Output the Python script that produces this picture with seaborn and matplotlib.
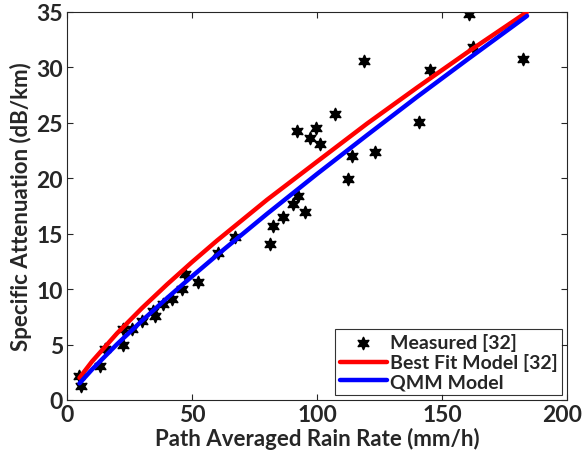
import matplotlib
matplotlib.use("Agg")
import matplotlib.pyplot as plt
import matplotlib.transforms as mtransforms
import seaborn as sns
import pandas as pd

# measured points (rain rate mm/h, attenuation dB/km)
rain_meas = [4.8, 5.6, 13.2, 15.2, 22.4, 22.4, 26.0, 30.0, 34.4, 35.2, 38.4, 42.0,
             46.0, 47.2, 52.4, 60.4, 67.2, 81.2, 82.4, 86.4, 90.4, 92.4, 95.2,
             92.0, 97.2, 99.6, 101.2, 107.2, 114.0, 112.4, 123.2, 118.8, 140.8,
             145.2, 160.8, 162.4, 182.4]
att_meas = [2.2, 1.3, 3.1, 4.6, 6.4, 5.0, 6.4, 7.1, 8.0, 7.6, 8.7, 9.1,
            10.0, 11.4, 10.6, 13.3, 14.7, 14.1, 15.7, 16.5, 17.7, 18.4, 17.0,
            24.3, 23.6, 24.5, 23.1, 25.8, 22.0, 19.9, 22.4, 30.6, 25.1,
            29.8, 34.8, 31.8, 30.8]

# model curves
rain_model = [5, 10, 20, 30, 40, 50, 60, 80, 100, 120, 140, 160, 184]
att_bestfit = [2.00, 3.47, 6.01, 8.29, 10.42, 12.44, 14.38, 18.06, 21.50,
               24.93, 28.18, 31.34, 35.0]
att_qmm = [1.50, 2.75, 5.03, 7.15, 9.19, 11.15, 13.07, 16.79, 20.39,
           23.89, 27.34, 30.69, 34.65]

sns.set_style("ticks")
plt.rcParams["font.family"] = ["Lato", "DejaVu Sans"]
plt.rcParams["font.weight"] = "bold"

fig = plt.figure(figsize=(5.84, 4.64), dpi=100)
ax = fig.add_axes([0.1147, 0.1358, 0.8563, 0.8362])

meas = pd.DataFrame({"rain": rain_meas, "att": att_meas})
sns.scatterplot(data=meas, x="rain", y="att", ax=ax, marker=(6, 1, 0), s=75,
                color="black", edgecolor="black", linewidth=1.2,
                label="Measured [32]", zorder=2)
sns.lineplot(x=rain_model, y=att_bestfit, ax=ax, color="#ff0000", lw=3.2,
             label="Best Fit Model [32]", sort=False, zorder=3)
sns.lineplot(x=rain_model, y=att_qmm, ax=ax, color="#0000ff", lw=3.2,
             label="QMM Model", sort=False, zorder=3)

ax.set_xlim(0, 200)
ax.set_ylim(0, 35)
ax.set_xticks([0, 50, 100, 150, 200])
ax.set_yticks([0, 5, 10, 15, 20, 25, 30, 35])
ax.tick_params(direction="in", top=True, right=True, length=4, width=0.8,
               labelsize=16.5, colors="#262626", pad=3)
for lab in ax.get_xticklabels() + ax.get_yticklabels():
    lab.set_fontweight("bold")
# keep the last x label inside the canvas
last = ax.get_xticklabels()[-1]
last.set_transform(last.get_transform() +
                   mtransforms.ScaledTranslation(-5 / 100, 0, fig.dpi_scale_trans))
for sp in ax.spines.values():
    sp.set_visible(True)
    sp.set_linewidth(0.8)
    sp.set_color("#262626")

ax.set_xlabel("Path Averaged Rain Rate (mm/h)", fontsize=16, fontweight="bold",
              color="#262626", labelpad=1)
ax.set_ylabel("Specific Attenuation (dB/km)", fontsize=16, fontweight="bold",
              color="#262626", labelpad=3)

leg = ax.legend(loc="lower right", fontsize=14, frameon=True, fancybox=False,
                edgecolor="black", borderaxespad=0.25, handlelength=2.4,
                handletextpad=0.15, borderpad=0.25, labelspacing=0.1)
leg.get_frame().set_linewidth(0.8)
for t in leg.get_texts():
    t.set_fontweight("bold")

fig.savefig("out.png", dpi=100)
